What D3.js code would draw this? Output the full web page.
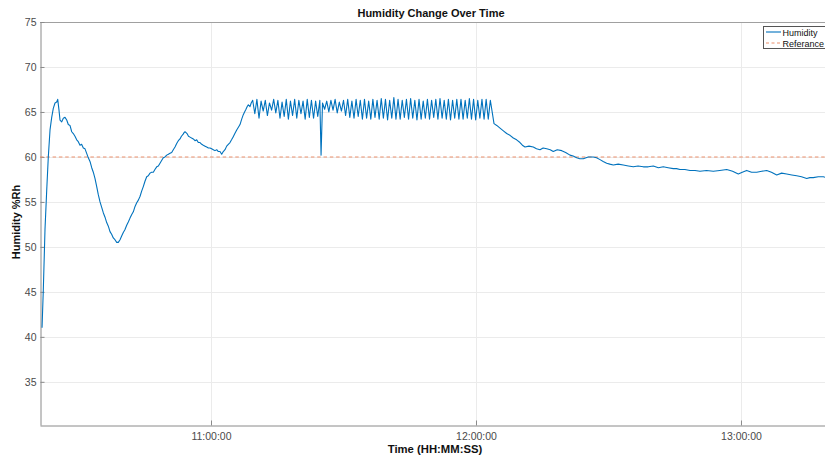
<!DOCTYPE html>
<html>
<head>
<meta charset="utf-8">
<script src="https://cdn.jsdelivr.net/npm/d3@7/dist/d3.min.js"></script>
<style>
  html, body { margin: 0; padding: 0; background: #fff; overflow: hidden; }
  svg { display: block; font-family: "Liberation Sans", Arial, Helvetica, sans-serif; }
</style>
</head>
<body>
<svg id="chart" width="825" height="461"></svg>
<script>
// ---- Data (time in minutes after 10:00:00, humidity in %Rh) ----
const startupTimes = [21.74,22.03,22.41,22.80,23.16,23.55,23.93,24.29,24.68,25.06,25.29,25.58,25.81,26.20,26.56,26.94,27.33,27.69,28.07,28.46,28.82,29.20,29.59,29.95,30.34,30.70,31.09,31.47,31.85,32.22,32.60,32.99,33.35,33.74,34.12,34.48,34.87,35.25,35.61,36.00,36.38,36.75,37.13,37.50,37.88,38.25,38.65,39.01,39.40,39.77,40.14,40.50,40.91,41.30,41.66,42.05,42.41,42.80,43.18,43.55,43.92,44.30,44.67,45.05,45.44,45.80,46.19,46.55,46.94,47.30,47.71,48.08,48.45,48.82,49.20,49.58,49.97,50.35,50.72,51.10,51.46,51.85,52.23,52.60,52.98,53.30,53.66,53.90,54.11,54.35,54.57,54.90,55.25,55.60,55.99,56.38,56.76,57.13,57.51,57.90,58.26,58.65,59.03,59.40,59.77,60.15,60.52,60.90,61.29,61.66,62.04,62.42,62.78,63.17,63.55,63.92,64.30,64.65,64.98,65.40,65.82,66.20,66.57,66.95,67.31,67.60,67.92,68.20,68.45,68.83,69.10];
const startupValues = [41.0,45.2,51.9,56.3,60.0,63.0,64.4,65.4,66.0,66.1,66.4,65.2,64.1,63.9,64.3,64.4,64.1,63.6,63.5,62.8,62.6,62.3,61.9,61.7,61.3,61.4,61.0,60.9,60.4,59.9,59.5,58.8,58.3,57.6,56.7,55.8,55.0,54.4,53.8,53.3,52.7,52.3,51.7,51.4,51.0,50.8,50.5,50.5,50.8,51.2,51.6,51.9,52.4,52.8,53.2,53.6,53.9,54.5,54.9,55.2,55.6,56.2,56.7,57.3,57.8,57.9,58.2,58.3,58.3,58.6,58.9,59.0,59.3,59.6,59.9,60.0,60.2,60.3,60.4,60.5,60.8,61.1,61.5,61.8,62.0,62.3,62.5,62.7,62.8,62.7,62.6,62.3,62.2,62.1,62.0,61.8,61.9,61.6,61.6,61.4,61.3,61.2,61.1,61.0,61.0,60.9,60.8,60.7,60.8,60.6,60.6,60.3,60.6,60.8,61.2,61.4,61.6,61.9,62.2,62.6,63.0,63.3,63.6,64.2,64.7,65.0,65.3,65.6,65.8,65.6,66.0];

const cycleTimes = [69.44,69.92,70.39,70.87,71.34,71.82,72.29,72.77,73.24,73.72,74.19,74.67,75.14,75.62,76.09,76.57,77.04,77.52,77.99,78.47,78.94,79.42,79.89,80.37,80.84,81.32,81.79,82.27,82.74,83.22,83.69,84.17,84.64,84.92,85.25,85.73,86.20,86.68,87.15,87.63,88.10,88.58,89.05,89.53,90.00,90.48,90.95,91.43,91.90,92.38,92.85,93.33,93.80,94.28,94.75,95.23,95.70,96.18,96.65,97.13,97.60,98.08,98.55,99.03,99.50,99.98,100.45,100.93,101.40,101.88,102.35,102.83,103.30,103.78,104.25,104.73,105.20,105.68,106.15,106.63,107.10,107.58,108.05,108.53,109.00,109.48,109.95,110.43,110.90,111.38,111.85,112.33,112.80,113.28,113.75,114.23,114.70,115.18,115.65,116.13,116.60,117.08,117.55,118.03,118.50,118.98,119.45,119.93,120.40,120.88,121.35,121.83,122.30,122.78,123.25];
const cycleValues = [66.3,64.8,66.4,64.3,66.2,65.1,66.3,64.6,66.0,65.2,66.4,64.9,66.3,64.3,66.1,64.5,66.4,64.2,66.2,64.6,66.4,64.3,66.3,64.8,66.2,64.2,66.4,64.4,66.3,64.3,66.2,64.5,66.3,60.2,66.0,65.3,66.2,65.0,66.3,65.2,66.4,64.9,66.1,65.1,66.3,64.6,66.4,64.4,66.2,64.3,66.4,64.5,66.3,64.2,66.4,64.3,66.2,64.2,66.4,64.4,66.3,64.2,66.5,64.3,66.4,64.1,66.3,64.3,66.6,64.2,66.4,64.2,66.3,64.4,66.4,64.2,66.5,64.3,66.3,64.1,66.4,64.2,66.2,64.3,66.4,64.2,66.3,64.4,66.4,64.2,66.5,64.3,66.3,64.2,66.4,64.1,66.3,64.3,66.4,64.2,66.4,64.2,66.3,64.3,66.5,64.2,66.4,64.1,66.3,64.3,66.4,64.2,66.4,64.2,66.3];

const decayTimes = [124.08,124.70,125.44,126.20,126.95,127.70,128.45,129.20,129.96,130.50,131.10,132.00,132.97,133.70,134.49,135.20,136.01,136.80,137.50,138.40,139.41,140.30,141.28,142.00,142.80,143.50,144.30,145.40,146.56,147.30,148.08,148.80,149.59,150.30,151.09,152.20,153.35,154.50,155.62,156.70,157.88,159.00,160.15,161.30,162.41,163.50,164.67,165.40,166.19,167.30,168.46,169.60,170.72,172.20,173.73,175.20,176.77,178.10,179.39,180.30,181.29,182.40,183.56,184.70,185.82,186.90,188.09,189.20,190.35,191.50,192.61,193.70,194.88,195.60,196.37,197.50,198.64,199.25];
const decayValues = [63.7,63.5,63.2,62.9,62.6,62.4,62.1,61.9,61.6,61.3,61.1,61.2,61.1,60.9,60.8,61.0,60.9,60.8,60.6,60.8,60.7,60.5,60.2,60.1,59.9,59.8,59.8,60.0,60.0,59.9,59.7,59.5,59.3,59.2,59.1,59.2,59.1,59.0,58.9,59.0,58.9,58.9,59.0,58.8,58.9,58.8,58.7,58.7,58.6,58.6,58.5,58.5,58.4,58.5,58.4,58.5,58.6,58.4,58.1,58.3,58.5,58.3,58.3,58.4,58.5,58.3,58.0,58.2,58.1,58.0,57.9,57.8,57.6,57.7,57.7,57.8,57.8,57.7];

const referenceValue = 60;
const xDomainMinutes = [21.28, 199.25];
const yDomain = [30.2, 75];
const xTickMinutes = [60, 120, 180];
const yTicks = [35, 40, 45, 50, 55, 60, 65, 70, 75];
const legendLabels = ["Humidity", "Referance"];

// ---- Build ----
const base = new Date(2000, 0, 1, 10, 0, 0);
const toDate = m => new Date(base.getTime() + m * 60000);
const allTimes = startupTimes.concat(cycleTimes, decayTimes);
const allValues = startupValues.concat(cycleValues, decayValues);
const series = allTimes.map((t, i) => ({ t: toDate(t), v: allValues[i] }));

const svg = d3.select("#chart");
const L = 40, R = 826, T = 22, B = 425;

const x = d3.scaleTime().domain(xDomainMinutes.map(toDate)).range([L, R]);
const y = d3.scaleLinear().domain(yDomain).range([B, T]);

// grid
const grid = svg.append("g");
grid.selectAll("line.gy").data(yTicks).enter().append("line")
  .attr("x1", L).attr("x2", R)
  .attr("y1", d => Math.round(y(d)) + 0.5).attr("y2", d => Math.round(y(d)) + 0.5)
  .attr("stroke", "#ebebeb").attr("stroke-width", 1);
grid.selectAll("line.gx").data(xTickMinutes).enter().append("line")
  .attr("x1", d => Math.round(x(toDate(d))) + 0.5).attr("x2", d => Math.round(x(toDate(d))) + 0.5)
  .attr("y1", T).attr("y2", B)
  .attr("stroke", "#ebebeb").attr("stroke-width", 1);

// box top
svg.append("line").attr("x1", L).attr("x2", R).attr("y1", T + 0.5).attr("y2", T + 0.5)
  .attr("stroke", "#a0a0a0").attr("stroke-width", 1);

// axes
const xAxis = d3.axisBottom(x)
  .tickValues(xTickMinutes.map(toDate))
  .tickFormat(d3.timeFormat("%H:%M:%S"))
  .tickSizeInner(-5).tickSizeOuter(0).tickPadding(7);
const gx = svg.append("g").attr("transform", `translate(0,${B + 0.5})`).call(xAxis);

const yAxis = d3.axisLeft(y)
  .tickValues(yTicks)
  .tickSizeInner(-4).tickSizeOuter(0).tickPadding(4);
const gy = svg.append("g").attr("transform", `translate(${L + 0.5},0)`).call(yAxis);

[gx, gy].forEach(g => {
  g.select(".domain").attr("stroke", "#8a8a8a").attr("stroke-width", 1);
  g.selectAll(".tick line").attr("stroke", "#8a8a8a");
  g.selectAll(".tick text").attr("fill", "#4a4a4a").attr("font-size", "10.5px")
    .attr("font-family", "'Liberation Sans', Arial, sans-serif");
});

// reference line
svg.append("line")
  .attr("x1", L).attr("x2", R)
  .attr("y1", y(referenceValue)).attr("y2", y(referenceValue))
  .attr("stroke", "#EC8F6C").attr("stroke-width", 1.1)
  .attr("stroke-dasharray", "3.5,2.8");

// humidity line
const line = d3.line().x(d => x(d.t)).y(d => y(d.v));
svg.append("path").datum(series)
  .attr("d", line)
  .attr("fill", "none")
  .attr("stroke", "#0072BD")
  .attr("stroke-width", 1.1)
  .attr("stroke-linejoin", "round");

// title and labels
svg.append("text").attr("x", 431).attr("y", 17).attr("text-anchor", "middle")
  .attr("font-size", "11px").attr("font-weight", "bold").attr("fill", "#111")
  .text("Humidity Change Over Time");
svg.append("text").attr("x", 435).attr("y", 453).attr("text-anchor", "middle")
  .attr("font-size", "11.3px").attr("font-weight", "bold").attr("fill", "#111")
  .text("Time (HH:MM:SS)");
svg.append("text").attr("transform", "translate(20,222) rotate(-90)").attr("text-anchor", "middle")
  .attr("font-size", "11px").attr("font-weight", "bold").attr("fill", "#111")
  .text("Humidity %Rh");

// legend
const lg = svg.append("g");
lg.append("rect").attr("x", 763.5).attr("y", 26.5).attr("width", 75).attr("height", 22)
  .attr("fill", "#fff").attr("stroke", "#555").attr("stroke-width", 1);
const lgStyles = [
  { stroke: "#0072BD", dash: null },
  { stroke: "#EC8F6C", dash: "3,2.5" }
];
legendLabels.forEach((lab, i) => {
  const yy = 32 + i * 11;
  lg.append("line").attr("x1", 766).attr("x2", 781).attr("y1", yy).attr("y2", yy)
    .attr("stroke", lgStyles[i].stroke).attr("stroke-width", 1.1)
    .attr("stroke-dasharray", lgStyles[i].dash);
  lg.append("text").attr("x", 782.5).attr("y", yy + 3.5)
    .attr("font-size", "9px").attr("fill", "#111").text(lab);
});
</script>
</body>
</html>
